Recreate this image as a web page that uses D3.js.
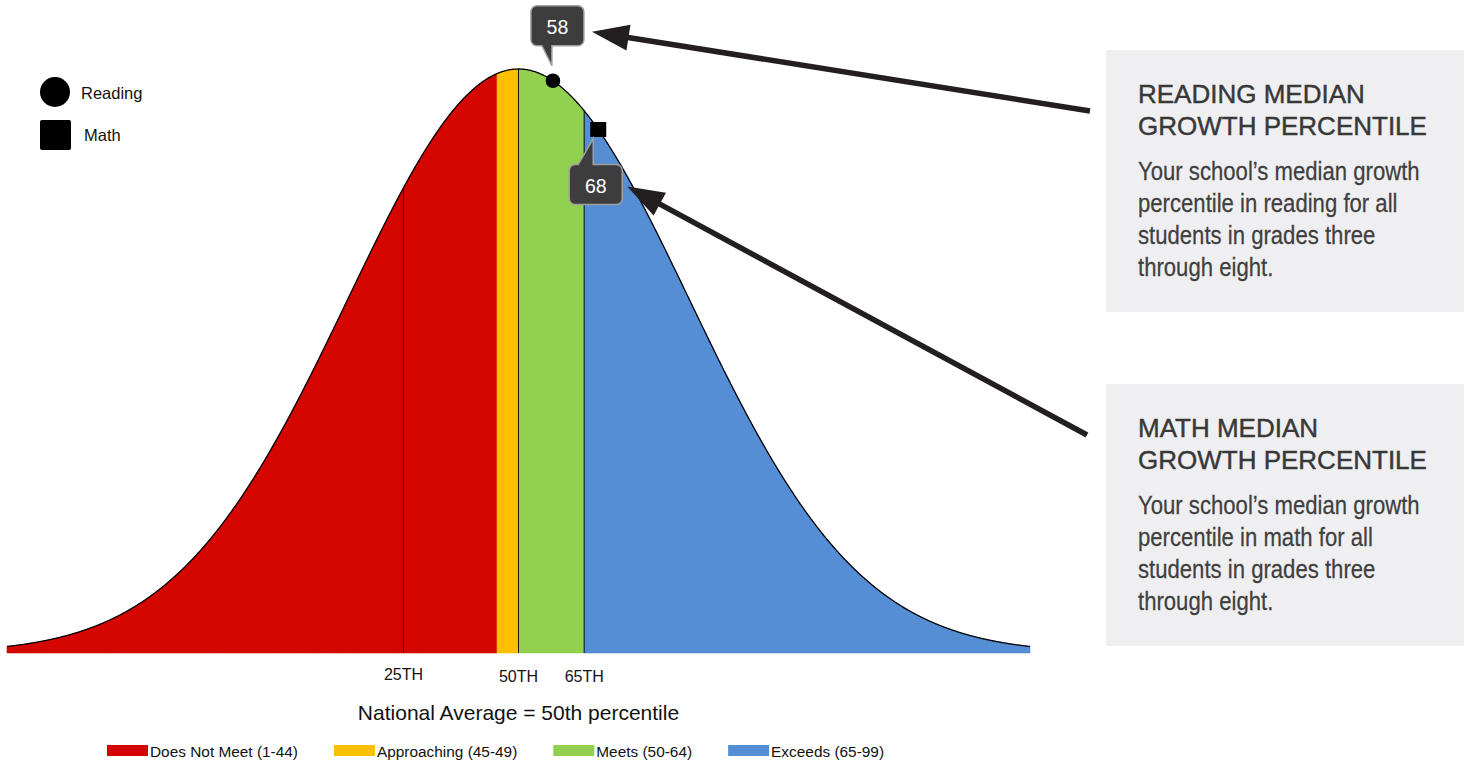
<!DOCTYPE html>
<html>
<head>
<meta charset="utf-8">
<script src="https://d3js.org/d3.v7.min.js"></script>
<style>
  body { margin: 0; background: #fff; }
  text { font-family: "Liberation Sans", Arial, sans-serif; }
</style>
</head>
<body>
<svg width="1469" height="762"></svg>
<script>
// ---- data ----
var bandNames = ["Does Not Meet (1-44)", "Approaching (45-49)", "Meets (50-64)", "Exceeds (65-99)"];
var bandStart = [0, 45, 50, 65];      // percentile where each band begins
var bandEnd = [45, 50, 65, 100];
var bandColors = ["#d50500", "#ffc000", "#92d050", "#558ed5"];

var tickPercentiles = [25, 50, 65];
var tickLabels = ["25TH", "50TH", "65TH"];

var subjects = ["Reading", "Math"];
var subjectValues = [58, 68];

var panelTitles = [["READING MEDIAN", "GROWTH PERCENTILE"], ["MATH MEDIAN", "GROWTH PERCENTILE"]];
var panelBody = [
  ["Your school\u2019s median growth", "percentile in reading for all", "students in grades three", "through eight."],
  ["Your school\u2019s median growth", "percentile in math for all", "students in grades three", "through eight."]
];

var svg = d3.select("svg");

// inverse normal cdf (Acklam)
function probit(p) {
  var a = [-3.969683028665376e+01, 2.209460984245205e+02, -2.759285104469687e+02, 1.383577518672690e+02, -3.066479806614716e+01, 2.506628277459239e+00];
  var b = [-5.447609879822406e+01, 1.615858368580409e+02, -1.556989798598866e+02, 6.680131188771972e+01, -1.328068155288572e+01];
  var c = [-7.784894002430293e-03, -3.223964580411365e-01, -2.400758277161838e+00, -2.549732539343734e+00, 4.374664141464968e+00, 2.938163982698783e+00];
  var d = [7.784695709041462e-03, 3.224671290700398e-01, 2.445134137142996e+00, 3.754408661907416e+00];
  var q, r;
  if (p <= 0) return -Infinity;
  if (p >= 1) return Infinity;
  if (p < 0.02425) {
    q = Math.sqrt(-2 * Math.log(p));
    return (((((c[0]*q+c[1])*q+c[2])*q+c[3])*q+c[4])*q+c[5]) / ((((d[0]*q+d[1])*q+d[2])*q+d[3])*q+1);
  }
  if (p > 1 - 0.02425) {
    q = Math.sqrt(-2 * Math.log(1 - p));
    return -(((((c[0]*q+c[1])*q+c[2])*q+c[3])*q+c[4])*q+c[5]) / ((((d[0]*q+d[1])*q+d[2])*q+d[3])*q+1);
  }
  q = p - 0.5; r = q * q;
  return (((((a[0]*r+a[1])*r+a[2])*r+a[3])*r+a[4])*r+a[5])*q / (((((b[0]*r+b[1])*r+b[2])*r+b[3])*r+b[4])*r+1);
}
function zOf(pct) { return Math.max(-3, Math.min(3, probit(pct / 100))); }
function dens(z) { return Math.exp(-z * z / 2); }

var x = d3.scaleLinear().domain([-3, 3]).range([7, 1030]);
var y = d3.scaleLinear().domain([0, 1]).range([653, 69]);

function zRange(z0, z1) {
  var pts = d3.range(z0, z1, 0.005);
  pts.push(z1);
  return pts;
}

var area = d3.area()
  .x(function(z) { return x(z); })
  .y0(y(0))
  .y1(function(z) { return y(dens(z)); });

// bands
var gBands = svg.append("g");
bandNames.forEach(function(name, i) {
  gBands.append("path")
    .datum(zRange(zOf(bandStart[i]), zOf(bandEnd[i])))
    .attr("d", area)
    .attr("fill", bandColors[i])
    .attr("stroke", bandColors[i])
    .attr("stroke-width", 0.6);
});

// percentile lines
var gTicks = svg.append("g");
gTicks.selectAll("line")
  .data(tickPercentiles).enter().append("line")
  .attr("x1", function(d) { return x(zOf(d)); })
  .attr("x2", function(d) { return x(zOf(d)); })
  .attr("y1", function(d) { return y(dens(zOf(d))); })
  .attr("y2", y(0))
  .attr("stroke", "#111")
  .attr("stroke-width", 1);
gTicks.selectAll("text")
  .data(tickPercentiles).enter().append("text")
  .attr("x", function(d) { return x(zOf(d)); })
  .attr("y", function(d, i) { return i == 0 ? 680 : 682; })
  .attr("text-anchor", "middle")
  .attr("font-size", 16)
  .attr("fill", "#111")
  .text(function(d, i) { return tickLabels[i]; });

// curve outline
var line = d3.line()
  .x(function(z) { return x(z); })
  .y(function(z) { return y(dens(z)); })
  .curve(d3.curveBasis);
svg.append("path")
  .datum(zRange(-3, 3))
  .attr("d", line)
  .attr("fill", "none")
  .attr("stroke", "#000")
  .attr("stroke-width", 1.3);

svg.append("text")
  .attr("x", x(0))
  .attr("y", 720)
  .attr("text-anchor", "middle")
  .attr("font-size", 21)
  .attr("fill", "#111")
  .text("National Average = 50th percentile");

// bottom legend
var gLeg = svg.append("g");
var lx = 107;
bandNames.forEach(function(name, i) {
  gLeg.append("rect")
    .attr("x", lx).attr("y", 745)
    .attr("width", 41).attr("height", 11)
    .attr("fill", bandColors[i]);
  var t = gLeg.append("text")
    .attr("x", lx + 43).attr("y", 756.5)
    .attr("font-size", 15.4)
    .attr("fill", "#111")
    .text(name);
  lx += 43 + t.node().getComputedTextLength() + 36;
});

// marker legend
var gMk = svg.append("g");
gMk.append("circle").attr("cx", 55).attr("cy", 92).attr("r", 15).attr("fill", "#000");
gMk.append("rect").attr("x", 40).attr("y", 120).attr("width", 31).attr("height", 30).attr("rx", 2).attr("fill", "#000");
gMk.append("text").attr("x", 81).attr("y", 99).attr("font-family", "Lato, 'Open Sans', sans-serif")
  .attr("font-size", 16.5).attr("fill", "#111").text(subjects[0]);
gMk.append("text").attr("x", 84).attr("y", 141).attr("font-family", "Lato, 'Open Sans', sans-serif")
  .attr("font-size", 16.5).attr("fill", "#111").text(subjects[1]);

// callout shapes
function calloutDown(x0, y0, w, h, r, p1, p2, tx, ty) {
  return "M" + (x0 + r) + "," + y0 + "H" + (x0 + w - r) +
    "A" + r + "," + r + " 0 0 1 " + (x0 + w) + "," + (y0 + r) +
    "V" + (y0 + h - r) + "A" + r + "," + r + " 0 0 1 " + (x0 + w - r) + "," + (y0 + h) +
    "H" + p2 + "L" + tx + "," + ty + "L" + p1 + "," + (y0 + h) +
    "H" + (x0 + r) + "A" + r + "," + r + " 0 0 1 " + x0 + "," + (y0 + h - r) +
    "V" + (y0 + r) + "A" + r + "," + r + " 0 0 1 " + (x0 + r) + "," + y0 + "Z";
}
function calloutUp(x0, y0, w, h, r, p1, p2, tx, ty) {
  return "M" + (x0 + r) + "," + y0 + "H" + p1 + "L" + tx + "," + ty + "L" + p2 + "," + y0 +
    "H" + (x0 + w - r) + "A" + r + "," + r + " 0 0 1 " + (x0 + w) + "," + (y0 + r) +
    "V" + (y0 + h - r) + "A" + r + "," + r + " 0 0 1 " + (x0 + w - r) + "," + (y0 + h) +
    "H" + (x0 + r) + "A" + r + "," + r + " 0 0 1 " + x0 + "," + (y0 + h - r) +
    "V" + (y0 + r) + "A" + r + "," + r + " 0 0 1 " + (x0 + r) + "," + y0 + "Z";
}

// markers + callouts
var gPts = svg.append("g");
var boxes = [];
subjectValues.forEach(function(v, i) {
  var z = zOf(v), mx = x(z), my = y(dens(z));
  var bw = 53, bh = 40, bx, by, d;
  if (i == 0) {
    gPts.append("circle").attr("cx", mx).attr("cy", my).attr("r", 7.3).attr("fill", "#000");
    bx = mx - 22; by = my - 75;
    d = calloutDown(bx, by, bw, bh, 6, mx - 11, mx - 1, mx - 1, my - 15);
  } else {
    gPts.append("rect").attr("x", mx - 8).attr("y", my - 7.5).attr("width", 16).attr("height", 15).attr("fill", "#000");
    bx = mx - 29; by = my + 35;
    d = calloutUp(bx, by, bw, bh, 6, mx - 20, mx - 5, mx - 5, my + 9);
  }
  gPts.append("path").attr("d", d)
    .attr("fill", "#3d3d3d")
    .attr("stroke", "#a0a0a0")
    .attr("stroke-width", 1.5);
  gPts.append("text")
    .attr("x", bx + bw / 2).attr("y", by + 28)
    .attr("text-anchor", "middle")
    .attr("font-size", 19.5)
    .attr("fill", "#fff")
    .text(v);
  boxes.push({ x: bx, y: by, w: bw, h: bh });
});

// side panels
var panelX = 1106, panelW = 358, panelH = 262, panelY = [50, 384];
var gPan = svg.append("g");
panelTitles.forEach(function(title, i) {
  var py = panelY[i];
  gPan.append("rect").attr("x", panelX).attr("y", py).attr("width", panelW).attr("height", panelH).attr("fill", "#efeff1");
  title.forEach(function(s, j) {
    gPan.append("text").attr("x", panelX + 32).attr("y", py + 53 + j * 32)
      .attr("font-size", 26).attr("fill", "#383838")
      .attr("stroke", "#383838").attr("stroke-width", 0.45)
      .text(s);
  });
  // body copy in a horizontally squeezed group for the condensed look
  panelBody[i].forEach(function(s, j) {
    gPan.append("g")
      .attr("transform", "translate(" + (panelX + 32) + "," + (py + 130 + j * 32) + ") scale(0.835,1)")
      .append("text")
      .attr("font-size", 26.5).attr("fill", "#404040")
      .attr("stroke", "#404040").attr("stroke-width", 0.25)
      .text(s);
  });
});

// arrows from panels to callouts
var gArr = svg.append("g");
var arrows = [
  { tail: [panelX - 16, panelY[0] + 61], tip: [boxes[0].x + boxes[0].w + 8, boxes[0].y + 26] },
  { tail: [panelX - 19, panelY[1] + 51], tip: [boxes[1].x + boxes[1].w + 5, boxes[1].y + 22] }
];
arrows.forEach(function(a) {
  var dx = a.tail[0] - a.tip[0], dy = a.tail[1] - a.tip[1];
  var len = Math.sqrt(dx * dx + dy * dy), ux = dx / len, uy = dy / len;
  var hl = 37, hw = 13;
  var bxp = a.tip[0] + ux * hl, byp = a.tip[1] + uy * hl;
  gArr.append("line")
    .attr("x1", a.tail[0]).attr("y1", a.tail[1])
    .attr("x2", bxp - ux * 2).attr("y2", byp - uy * 2)
    .attr("stroke", "#231f20").attr("stroke-width", 5.5);
  gArr.append("path")
    .attr("d", "M" + a.tip[0] + "," + a.tip[1] +
      "L" + (bxp - uy * hw) + "," + (byp + ux * hw) +
      "L" + (bxp + uy * hw) + "," + (byp - ux * hw) + "Z")
    .attr("fill", "#231f20");
});
</script>
</body>
</html>
